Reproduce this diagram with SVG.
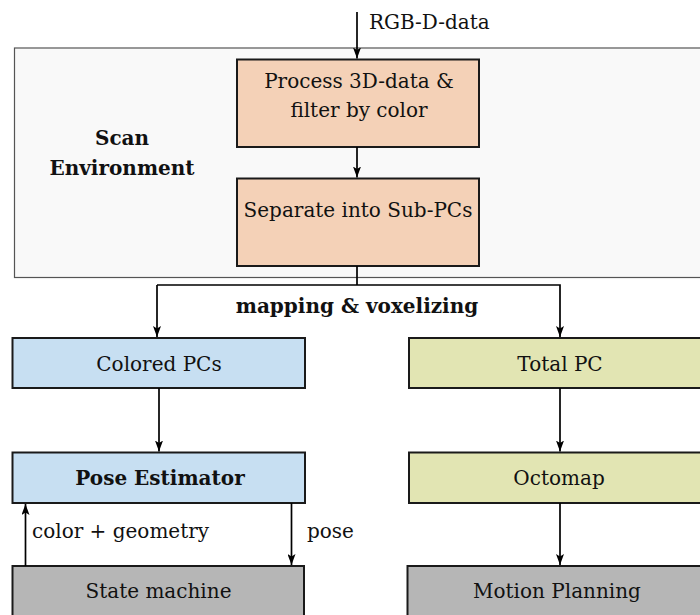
<svg xmlns="http://www.w3.org/2000/svg" width="700" height="615" viewBox="0 0 700 615">
  <defs>
    <marker id="arrow" viewBox="0 0 11 8" refX="11" refY="4" markerWidth="11" markerHeight="8" markerUnits="userSpaceOnUse" orient="auto">
      <path d="M0,0 L11,4 L0,8 L2.5,4 Z" fill="#000"/>
    </marker>
  </defs>
  <style>
    text { font-family: "DejaVu Serif", "Liberation Serif", serif; font-size: 20px; fill: #111; }
    .c { text-anchor: middle; }
    .b { font-weight: bold; }
    .box { stroke: #1a1a1a; stroke-width: 2; }
    .peach { fill: #f4d1b7; }
    .blue { fill: #c7dff2; }
    .olive { fill: #e2e5b3; }
    .grey { fill: #b6b6b6; }
    .conn { fill: none; stroke: #000; stroke-width: 1.7; }
    .arr { marker-end: url(#arrow); }
  </style>

  <rect width="700" height="615" fill="#fff"/>

  <!-- scanning stage container -->
  <g id="scan-environment">
    <rect x="14.5" y="48" width="700" height="229.5" fill="#f9f9f9" stroke="#555" stroke-width="1.2"/>
    <text class="c b" x="122" y="145">Scan</text>
    <text class="c b" x="122" y="175">Environment</text>
  </g>

  <g id="process">
    <rect class="box peach" x="237" y="59.5" width="242" height="87.5"/>
    <text class="c" x="359" y="88">Process 3D-data &amp;</text>
    <text class="c" x="359" y="117">filter by color</text>
  </g>

  <g id="separate">
    <rect class="box peach" x="237" y="178.5" width="242" height="87.5"/>
    <text class="c" x="358" y="217">Separate into Sub-PCs</text>
  </g>

  <g id="colored-pcs">
    <rect class="box blue" x="12.5" y="338" width="292.5" height="50"/>
    <text class="c" x="159" y="371">Colored PCs</text>
  </g>

  <g id="pose-estimator">
    <rect class="box blue" x="12.5" y="452.5" width="292.5" height="50.5"/>
    <text class="c b" x="160" y="485">Pose Estimator</text>
  </g>

  <g id="state-machine">
    <rect class="box grey" x="12.5" y="566" width="291.5" height="60"/>
    <text class="c" x="158.5" y="598">State machine</text>
  </g>

  <g id="total-pc">
    <rect class="box olive" x="409" y="338" width="302" height="50"/>
    <text class="c" x="560" y="371">Total PC</text>
  </g>

  <g id="octomap">
    <rect class="box olive" x="409" y="452.5" width="302" height="50.5"/>
    <text class="c" x="559" y="485">Octomap</text>
  </g>

  <g id="motion-planning">
    <rect class="box grey" x="407.5" y="566" width="303" height="60"/>
    <text class="c" x="557" y="598">Motion Planning</text>
  </g>

  <!-- connectors -->
  <g id="connectors">
    <path class="conn arr" d="M357,12 V58.5"/>
    <path class="conn arr" d="M357,147 V177.5"/>
    <path class="conn" d="M357,266 V285"/>
    <path class="conn arr" d="M157,285 H560 V337"/>
    <path class="conn arr" d="M157,285 V337"/>
    <path class="conn arr" d="M159,388 V451.5"/>
    <path class="conn arr" d="M560,388 V451.5"/>
    <path class="conn arr" d="M560,503 V565"/>
    <path class="conn arr" d="M25.5,566 V504"/>
    <path class="conn arr" d="M291.5,503 V565"/>
    <text x="369" y="29">RGB-D-data</text>
    <text class="c b" x="357" y="313">mapping &amp; voxelizing</text>
    <text x="32" y="538">color + geometry</text>
    <text x="307" y="538">pose</text>
  </g>
</svg>
